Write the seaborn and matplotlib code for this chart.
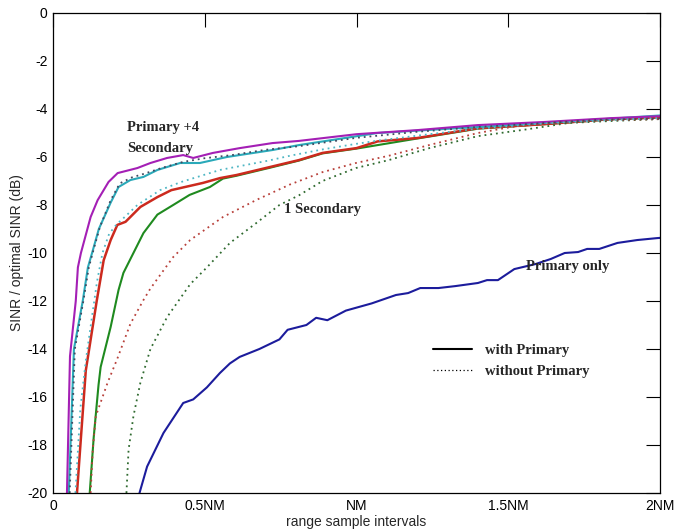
import matplotlib
matplotlib.use("Agg")
import matplotlib.pyplot as plt
import seaborn as sns
import pandas as pd
from matplotlib.lines import Line2D

# ---- data (x in units of NM, y in dB) ----
mag_x = [0.046, 0.056, 0.075, 0.082, 0.092, 0.124, 0.147, 0.183, 0.213, 0.278, 0.321, 0.376, 0.429, 0.462,
         0.527, 0.615, 0.723, 0.81, 1.0, 1.2, 1.4, 1.62, 1.84, 2.0]
mag_y = [-20, -14.3, -12.0, -10.6, -10.0, -8.5, -7.8, -7.04, -6.67, -6.46, -6.25, -6.04, -5.92, -6.04,
         -5.83, -5.63, -5.42, -5.33, -5.05, -4.88, -4.67, -4.54, -4.38, -4.3]

cyan_x = [0.052, 0.069, 0.098, 0.115, 0.131, 0.151, 0.19, 0.216, 0.255, 0.298, 0.344, 0.419, 0.484, 0.573,
          0.723, 0.812, 1.07, 1.4, 1.62, 1.84, 2.0]
cyan_y = [-20, -14.0, -12.0, -10.6, -9.9, -9.0, -7.9, -7.25, -6.96, -6.83, -6.54, -6.25, -6.25, -6.0,
          -5.71, -5.5, -5.0, -4.75, -4.58, -4.4, -4.27]

magd_x = [0.055, 0.072, 0.10, 0.118, 0.135, 0.155, 0.19, 0.22, 0.26, 0.30, 0.36, 0.43, 0.5, 0.59, 0.7,
          0.81, 1.0, 1.2, 1.4, 1.6, 1.8, 2.0]
magd_y = [-20, -14.0, -12.0, -10.6, -9.8, -8.9, -7.8, -7.1, -6.85, -6.7, -6.45, -6.2, -6.05, -5.92, -5.7,
          -5.55, -5.2, -4.95, -4.75, -4.6, -4.45, -4.4]

cyd_x = [0.074, 0.09, 0.108, 0.128, 0.145, 0.163, 0.185, 0.21, 0.232, 0.278, 0.353, 0.42, 0.55, 0.71, 0.78,
         0.89, 1.0, 1.08, 1.24, 1.4, 1.62, 1.84, 2.0]
cyd_y = [-20, -16.5, -14.5, -12.7, -11.2, -10.0, -9.2, -8.8, -8.55, -8.0, -7.38, -7.05, -6.54, -6.15, -5.95,
         -5.68, -5.45, -5.3, -5.05, -4.82, -4.6, -4.46, -4.38]

red_x = [0.079, 0.092, 0.108, 0.144, 0.167, 0.19, 0.212, 0.239, 0.288, 0.344, 0.39, 0.494, 0.55, 0.605,
         0.714, 0.81, 0.888, 1.0, 1.07, 1.2, 1.4, 1.62, 1.84, 2.0]
red_y = [-20, -17.7, -14.9, -12.0, -10.3, -9.46, -8.83, -8.7, -8.08, -7.67, -7.38, -7.08, -6.88, -6.75,
         -6.42, -6.13, -5.83, -5.63, -5.35, -5.21, -4.8, -4.63, -4.42, -4.35]

grn_x = [0.121, 0.134, 0.15, 0.157, 0.19, 0.216, 0.232, 0.265, 0.298, 0.344, 0.396, 0.45, 0.517, 0.56,
         0.605, 0.714, 0.81, 0.888, 1.0, 1.2, 1.4, 1.62, 1.84, 2.0]
grn_y = [-20, -17.7, -15.5, -14.75, -13.08, -11.54, -10.83, -10.0, -9.17, -8.4, -8.0, -7.58, -7.25, -6.9,
         -6.78, -6.45, -6.15, -5.85, -5.65, -5.23, -4.82, -4.63, -4.43, -4.35]

rd_x = [0.124, 0.131, 0.141, 0.18, 0.212, 0.255, 0.298, 0.32, 0.354, 0.396, 0.452, 0.56, 0.67, 0.78, 0.888,
        0.998, 1.106, 1.24, 1.4, 1.51, 1.67, 1.84, 2.0]
rd_y = [-20, -18.2, -16.8, -15.4, -14.4, -12.95, -11.96, -11.5, -10.9, -10.17, -9.46, -8.5, -7.79, -7.15,
        -6.63, -6.25, -5.95, -5.5, -5.0, -4.75, -4.54, -4.46, -4.42]

gd_x = [0.242, 0.249, 0.265, 0.288, 0.321, 0.376, 0.452, 0.507, 0.583, 0.67, 0.746, 0.81, 0.888, 0.998,
        1.106, 1.24, 1.4, 1.56, 1.7, 1.84, 2.0]
gd_y = [-20, -18.2, -16.8, -15.4, -14.0, -12.67, -11.3, -10.6, -9.58, -8.75, -8.0, -7.6, -7.0, -6.46,
        -6.13, -5.63, -5.13, -4.85, -4.58, -4.5, -4.42]

bl_x = [0.285, 0.31, 0.364, 0.429, 0.462, 0.507, 0.55, 0.583, 0.615, 0.68, 0.746, 0.773, 0.835, 0.867,
        0.904, 0.965, 1.05, 1.13, 1.17, 1.21, 1.27, 1.325, 1.4, 1.43, 1.466, 1.52, 1.59, 1.64, 1.686, 1.73,
        1.76, 1.80, 1.86, 1.925, 1.99, 2.0]
bl_y = [-20, -18.9, -17.5, -16.25, -16.1, -15.6, -15.0, -14.6, -14.33, -14.0, -13.6, -13.2, -13.0, -12.7,
        -12.8, -12.4, -12.1, -11.75, -11.67, -11.46, -11.46, -11.38, -11.25, -11.13, -11.13, -10.67, -10.46,
        -10.25, -10.0, -9.96, -9.83, -9.83, -9.58, -9.46, -9.38, -9.37]

x_ticks = [0, 0.5, 1.0, 1.5, 2.0]
x_tick_labels = ["0", "0.5NM", "NM", "1.5NM", "2NM"]
y_ticks = list(range(-20, 1, 2))

# ---- style ----
sns.set_style("white")
plt.rcParams["font.family"] = ["Liberation Sans", "DejaVu Sans"]
plt.rcParams["axes.unicode_minus"] = False

fig = plt.figure(figsize=(6.75, 5.31), dpi=100)
ax = fig.add_axes([53 / 675, 1 - 493 / 531, (660 - 53) / 675, (493 - 13) / 531])

series = [
    (grn_x, grn_y, "#1f8a1f", "-", 1.5),
    (red_x, red_y, "#cc2a1e", "-", 1.8),
    (cyan_x, cyan_y, "#2aa9b9", "-", 1.5),
    (mag_x, mag_y, "#a41fb5", "-", 1.5),
    (bl_x, bl_y, "#1c1c9c", "-", 1.5),
    (gd_x, gd_y, "#2f6a2f", (0, (1, 2.2)), 1.3),
    (rd_x, rd_y, "#b8403a", (0, (1, 2.2)), 1.3),
    (cyd_x, cyd_y, "#4fb6c4", (0, (1, 2.2)), 1.3),
    (magd_x, magd_y, "#404a60", (0, (1, 2.2)), 1.3),
]
for xs, ys, col, ls, lw in series:
    df = pd.DataFrame({"x": xs, "y": ys})
    sns.lineplot(data=df, x="x", y="y", color=col, linestyle=ls, linewidth=lw,
                 estimator=None, ax=ax, clip_on=True)

ax.set_xlim(0, 2)
ax.set_ylim(-20, 0)
ax.set_xticks(x_ticks)
ax.set_xticklabels(x_tick_labels)
ax.set_yticks(y_ticks)
ax.tick_params(direction="in", length=10, width=0.8, labelsize=10, colors="black",
               top=True, right=True, pad=4)
for s in ax.spines.values():
    s.set_visible(True)
    s.set_color("black")
    s.set_linewidth(0.9)

ax.set_xlabel("range sample intervals", fontsize=10, labelpad=2)
ax.set_ylabel("SINR / optimal SINR (dB)", fontsize=10, labelpad=2)

serif = ["Liberation Serif", "DejaVu Serif"]
ax.text(0.244, -4.79, "Primary +4", fontsize=10.5, fontweight="bold", family=serif, va="center", ha="left")
ax.text(0.244, -5.63, "Secondary", fontsize=10.5, fontweight="bold", family=serif, va="center", ha="left")
ax.text(0.761, -8.17, "1 Secondary", fontsize=10.5, fontweight="bold", family=serif, va="center", ha="left")
ax.text(1.558, -10.58, "Primary only", fontsize=10.5, fontweight="bold", family=serif, va="center", ha="left")

handles = [Line2D([], [], color="black", linestyle="-", linewidth=1.5),
           Line2D([], [], color="black", linestyle=(0, (1, 2)), linewidth=0.9)]
ax.legend(handles, ["with Primary", "without Primary"], loc="center",
          bbox_to_anchor=(0.755, 0.275), frameon=False, handlelength=2.7, handletextpad=0.9,
          labelspacing=0.55, prop={"family": serif, "weight": "bold", "size": 10.5})

fig.savefig("out.png", dpi=100, facecolor="white")
